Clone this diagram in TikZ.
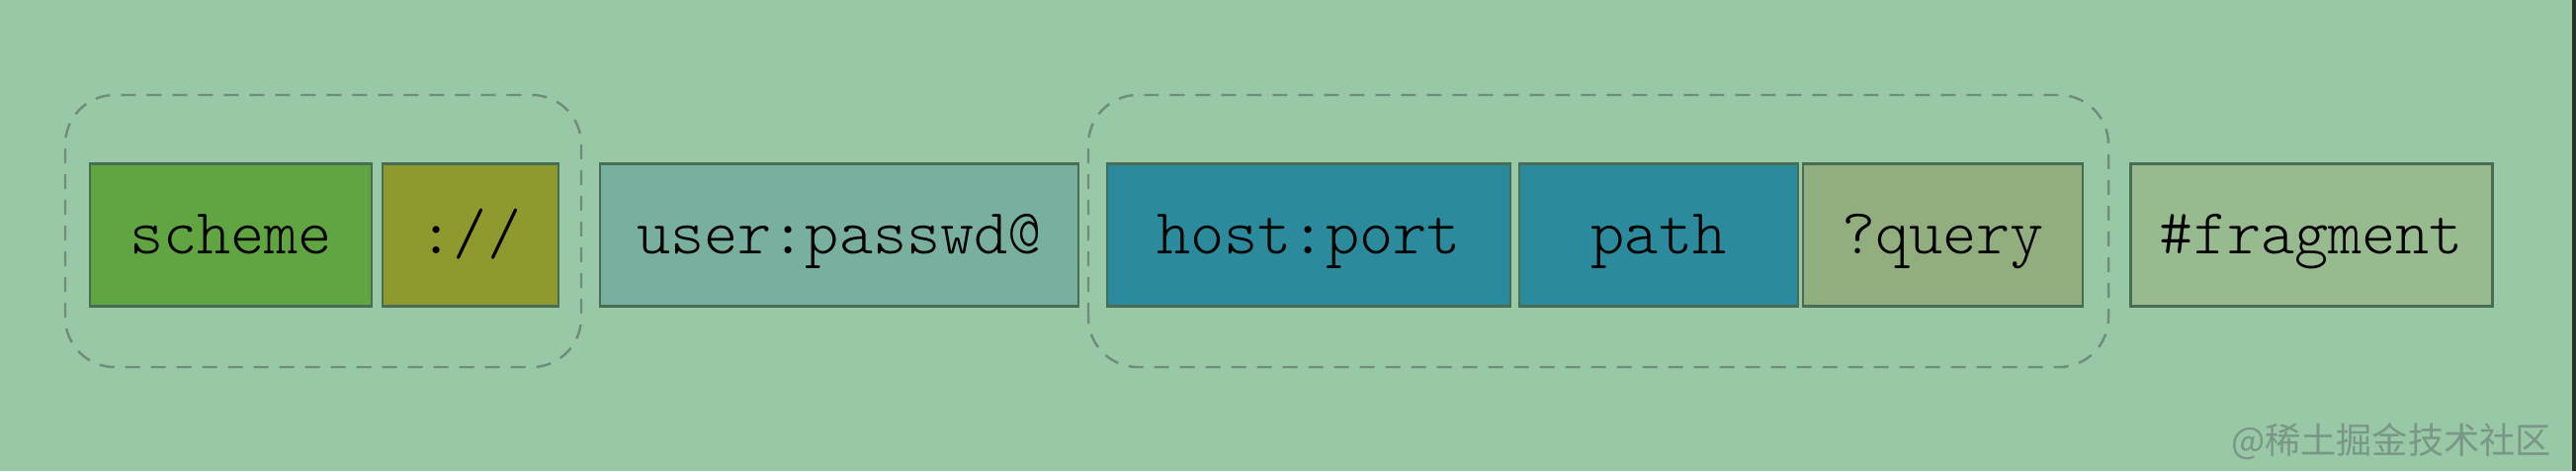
\documentclass[tikz,border=0pt]{standalone}
\usepackage{fontspec}
\usepackage{xcolor}
\usepackage{tikz}
\setmonofont{Latin Modern Mono Light}
\newfontfamily\cjk{Noto Sans CJK SC}
\definecolor{bgcol}{RGB}{152,200,166}
\definecolor{schemecol}{RGB}{96,165,66}
\definecolor{sepcol}{RGB}{142,154,46}
\definecolor{usercol}{RGB}{121,175,158}
\definecolor{hostcol}{RGB}{43,138,156}
\definecolor{querycol}{RGB}{147,174,126}
\definecolor{fragcol}{RGB}{152,186,143}
\definecolor{edgecol}{RGB}{72,108,84}
\definecolor{groupcol}{RGB}{112,140,122}
\definecolor{markcol}{RGB}{122,150,134}
\tikzset{
  part/.style={draw=edgecol, line width=0.6pt, minimum height=1.44cm, inner sep=0pt,
    text height=0.5cm, text depth=0.12cm,
    font=\fontsize{18.5}{22}\selectfont\ttfamily},
  group/.style={draw=groupcol, line width=0.7pt, dash pattern=on 0.15cm off 0.11cm, rounded corners=0.5cm}
}

\begin{document}
\begin{tikzpicture}
				\useasboundingbox (0,0) rectangle (26.06,4.76);
				\fill [bgcol] (0,0) rectangle (26.06,4.76);
				\fill [black!75!bgcol] (26.02,0) rectangle (26.06,4.76);
				\draw [group] (0.66,1.05) rectangle (5.88,3.80);
				\draw [group] (11.01,1.05) rectangle (21.33,3.80);
				\node [part, fill=schemecol, minimum width=2.85cm] (scheme) at (2.335,2.385) {scheme};
				\node [part, fill=sepcol, minimum width=1.78cm] (sep) at (4.76,2.385) {://};
				\node [part, fill=usercol, minimum width=4.84cm] (user) at (8.49,2.385) {user:passwd@};
				\node [part, fill=hostcol, minimum width=4.08cm] (host) at (13.24,2.385) {host:port};
				\node [part, fill=hostcol, minimum width=2.82cm] (path) at (16.78,2.385) {path};
				\node [part, fill=querycol, minimum width=2.83cm] (query) at (19.655,2.385) {?query};
				\node [part, fill=fragcol, minimum width=3.66cm] (frag) at (23.385,2.385) {\#fragment};
				\node [color=markcol, font=\cjk\fontsize{10.3}{12}\selectfont] (mark) at (24.19,0.30) {@稀土掘金技术社区};
			\end{tikzpicture}
\end{document}
